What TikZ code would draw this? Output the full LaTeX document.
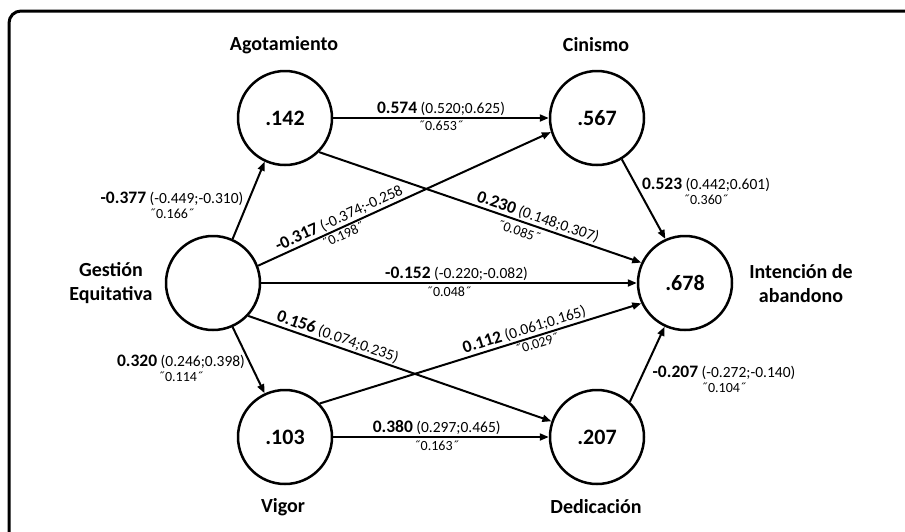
\documentclass[tikz,border=0pt]{standalone}
\usepackage{fontspec}
\setmainfont{Carlito}
\usetikzlibrary{arrows.meta}
\newcommand\coefA[2]{{\fontsize{17.5}{15}\selectfont\bfseries #1} {\fontsize{15.5}{15}\selectfont #2}}
\newcommand\coefB[1]{{\fontsize{14}{15}\selectfont ˝#1˝}}
\begin{document}
\begin{tikzpicture}[x=1pt,y=-1pt,
  lv/.style={circle,draw,line width=2.5pt,minimum size=94pt,inner sep=0pt,font=\fontsize{22}{26}\selectfont\bfseries},
  nm/.style={font=\fontsize{20}{24}\selectfont\bfseries,align=center},
  pth/.style={line width=2pt,-{Triangle[length=9pt,width=7pt]}},
  cf/.style={font=\fontsize{15.5}{15}\selectfont,align=center,inner sep=1.5pt},
]
\useasboundingbox (0,0) rectangle (905,531);
\clip (0,0) rectangle (905,531);
\fill[white] (0,0) rectangle (905,531);
\draw[line width=3pt,rounded corners=12pt] (9,560) -- (9,11) -- (930,11);

% latent variables
\node[lv] (A) at (285,118) {.142};
\node[lv] (C) at (597,118) {.567};
\node[lv] (G) at (213,283) {};
\node[lv] (I) at (685,283) {.678};
\node[lv] (V) at (285,437) {.103};
\node[lv] (D) at (597,437) {.207};

% names
\node[nm] (nA) at (284,45) {Agotamiento};
\node[nm] (nC) at (596,45) {Cinismo};
\node[nm] (nG) at (111,283) {Gestión\\Equitativa};
\node[nm] (nI) at (801,284) {Intención de\\abandono};
\node[nm] (nV) at (283,507) {Vigor};
\node[nm] (nD) at (596,507) {Dedicación};

% paths
\draw[pth] (A.east) -- (C.west)
  node[cf,above,pos=.5] {\coefA{0.574}{(0.520;0.625)}}
  node[cf,below,pos=.5] {\coefB{0.653}};
\draw[pth] (G.21) -- (C.197)
  node[cf,above,sloped,pos=.29] {\coefA{-0.317}{(-0.374;-0.258}}
  node[cf,below,sloped,pos=.28] {\coefB{0.198}};
\draw[pth] (A.-45) -- (I.155)
  node[cf,above,sloped,pos=.67] {\coefA{0.230}{(0.148;0.307)}}
  node[cf,below,sloped,pos=.63,inner sep=4pt] {\coefB{0.085}};
\draw[pth] (G.east) -- (I.west)
  node[cf,above,pos=.52] {\coefA{-0.152}{(-0.220;-0.082)}}
  node[cf,below,pos=.50,inner sep=3pt] {\coefB{0.048}};
\draw[pth] (G.-43) -- (D.161)
  node[cf,above,sloped,pos=.285] {\coefA{0.156}{(0.074;0.235)}};
\draw[pth] (V.44) -- (I.205)
  node[cf,above,sloped,pos=.645] {\coefA{0.112}{(0.061;0.165)}}
  node[cf,below,sloped,pos=.67] {\coefB{0.029}};
\draw[pth] (V.east) -- (D.west)
  node[cf,above,pos=.48] {\coefA{0.380}{(0.297;0.465)}}
  node[cf,below,pos=.48,inner sep=3pt] {\coefB{0.163}};
\draw[pth] (G.66) -- (A.245);
\draw[pth] (C.-59) -- (I.114);
\draw[pth] (G.-66) -- (V.115);
\draw[pth] (D.47) -- (I.245);

% off-path labels
\node[cf] (lGA) at (172,205) {\coefA{-0.377}{(-0.449;-0.310)}\\\coefB{0.166}};
\node[cf] (lCI) at (706,191) {\coefA{0.523}{(0.442;0.601)}\\\coefB{0.360}};
\node[cf] (lGV) at (181,368) {\coefA{0.320}{(0.246;0.398)}\\\coefB{0.114}};
\node[cf] (lDI) at (724,379) {\coefA{-0.207}{(-0.272;-0.140)}\\\coefB{0.104}};
\end{tikzpicture}
\end{document}
